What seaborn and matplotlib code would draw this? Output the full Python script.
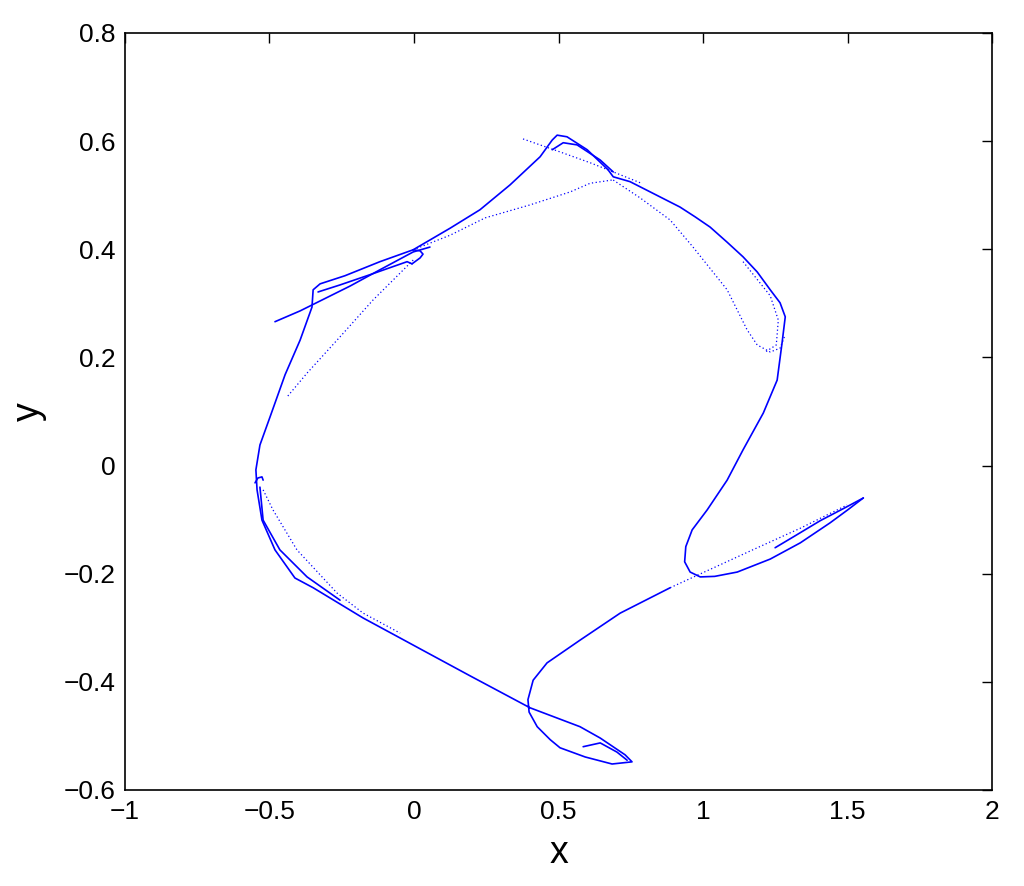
import pandas as pd
import matplotlib
matplotlib.use("Agg")
import matplotlib.pyplot as plt
import seaborn as sns

# traced strands of the attractor (x, y)
main_x = [-0.003, -0.118, -0.239, -0.325, -0.349, -0.353, -0.394, -0.446, -0.498, -0.533, -0.547, -0.543,
          -0.526, -0.481, -0.412, -0.349, -0.176, -0.048, 0.021, 0.194, 0.401, 0.574, 0.644, 0.730, 0.754,
          0.685, 0.592, 0.505, 0.471, 0.426, 0.398, 0.394, 0.412, 0.460, 0.574, 0.713, 0.886]
main_y = [0.399, 0.377, 0.351, 0.336, 0.325, 0.293, 0.232, 0.168, 0.090, 0.038, -0.008, -0.045,
          -0.101, -0.156, -0.208, -0.226, -0.282, -0.319, -0.339, -0.389, -0.448, -0.483, -0.504, -0.535, -0.548,
          -0.552, -0.539, -0.522, -0.507, -0.483, -0.456, -0.433, -0.397, -0.365, -0.323, -0.273, -0.226]

loop_x = [1.554, 1.500, 1.439, 1.336, 1.232, 1.118, 1.040, 0.990, 0.955, 0.936, 0.940, 0.962, 1.014, 1.083,
          1.138, 1.208, 1.256, 1.273, 1.284, 1.266, 1.232, 1.187, 1.138, 1.083, 1.024, 0.972, 0.920, 0.817,
          0.747, 0.689, 0.671, 0.599, 0.529, 0.495, 0.478, 0.436, 0.332, 0.228, 0.125, -0.003]
loop_y = [-0.060, -0.082, -0.106, -0.143, -0.173, -0.197, -0.205, -0.206, -0.197, -0.178, -0.150, -0.119,
          -0.082, -0.027, 0.029, 0.097, 0.158, 0.227, 0.275, 0.301, 0.325, 0.358, 0.386, 0.413, 0.441, 0.460,
          0.478, 0.506, 0.525, 0.534, 0.547, 0.584, 0.608, 0.611, 0.602, 0.571, 0.519, 0.473, 0.439, 0.399]

hook_x = [-0.003, 0.021, 0.031, 0.021, -0.007]
hook_y = [0.399, 0.397, 0.391, 0.384, 0.373]

thin_left_x = [-0.481, -0.394, -0.221, -0.118, -0.003, 0.055]
thin_left_y = [0.266, 0.286, 0.332, 0.362, 0.395, 0.404]

inner_left_x = [-0.332, -0.256, -0.152, -0.024, -0.007]
inner_left_y = [0.321, 0.334, 0.353, 0.377, 0.373]

drop_left_x = [-0.003, -0.142, -0.256, -0.370, -0.439]
drop_left_y = [0.380, 0.306, 0.238, 0.171, 0.127]

top_thin_x = [0.377, 0.505, 0.609, 0.689, 0.782]
top_thin_y = [0.604, 0.580, 0.560, 0.543, 0.523]

top_low_x = [-0.003, 0.125, 0.246, 0.401, 0.540, 0.609, 0.685]
top_low_y = [0.399, 0.426, 0.458, 0.482, 0.506, 0.522, 0.528]

peak_in_x = [0.478, 0.516, 0.564, 0.644, 0.689]
peak_in_y = [0.584, 0.597, 0.593, 0.565, 0.543]

tear_in_x = [0.689, 0.782, 0.886, 0.965, 1.083, 1.152, 1.187, 1.232, 1.266, 1.284]
tear_in_y = [0.528, 0.495, 0.454, 0.404, 0.325, 0.251, 0.223, 0.210, 0.217, 0.242]

tear_mid_x = [1.138, 1.232, 1.260, 1.253, 1.215]
tear_mid_y = [0.377, 0.314, 0.269, 0.223, 0.210]

v_in_x = [1.554, 1.491, 1.405, 1.318, 1.249]
v_in_y = [-0.060, -0.078, -0.102, -0.130, -0.152]

v_line_x = [0.886, 1.000, 1.163, 1.336, 1.498]
v_line_y = [-0.226, -0.198, -0.158, -0.116, -0.073]

arc_a_x = [-0.522, -0.488, -0.405, -0.266, -0.176, -0.048]
arc_a_y = [-0.045, -0.082, -0.156, -0.236, -0.273, -0.310]

arc_b_x = [-0.533, -0.522, -0.464, -0.370, -0.256]
arc_b_y = [-0.040, -0.101, -0.156, -0.206, -0.249]

tip_x = [-0.550, -0.540, -0.526, -0.522]
tip_y = [-0.032, -0.023, -0.021, -0.027]

bot_in_x = [0.585, 0.644, 0.702, 0.737]
bot_in_y = [-0.520, -0.513, -0.530, -0.545]

solid = [(main_x, main_y), (loop_x, loop_y), (hook_x, hook_y), (thin_left_x, thin_left_y),
         (inner_left_x, inner_left_y), (arc_b_x, arc_b_y), (tip_x, tip_y), (v_in_x, v_in_y),
         (bot_in_x, bot_in_y), (peak_in_x, peak_in_y)]
dotted = [(drop_left_x, drop_left_y), (top_thin_x, top_thin_y), (top_low_x, top_low_y),
          (tear_in_x, tear_in_y), (tear_mid_x, tear_mid_y), (v_line_x, v_line_y), (arc_a_x, arc_a_y)]

sns.set_style("white")
plt.rcParams['font.family'] = ['Liberation Sans', 'DejaVu Sans']

fig = plt.figure(figsize=(10.24, 8.86), dpi=100)
ax = fig.add_axes([0.122, 0.1084, 0.847, 0.8544])

for xs, ys in solid:
    sns.lineplot(x=xs, y=ys, sort=False, estimator=None, color="#0000ff", lw=1.2,
                 solid_capstyle="round", solid_joinstyle="round", ax=ax)
for xs, ys in dotted:
    sns.lineplot(x=xs, y=ys, sort=False, estimator=None, color="#0000ff", lw=0.9,
                 linestyle=(0, (1, 2)), ax=ax)

ax.set_xlim(-1, 2)
ax.set_ylim(-0.6, 0.8)
ax.set_xticks([-1, -0.5, 0, 0.5, 1, 1.5, 2])
ax.set_yticks([-0.6, -0.4, -0.2, 0, 0.2, 0.4, 0.6, 0.8])
ax.set_xticklabels(["\u22121", "\u22120.5", "0", "0.5", "1", "1.5", "2"])
ax.set_yticklabels(["\u22120.6", "\u22120.4", "\u22120.2", "0", "0.2", "0.4", "0.6", "0.8"])
ax.tick_params(direction="in", length=7, width=1, labelsize=19, labelcolor="black",
               colors="black", top=True, right=True, pad=7)
for s in ax.spines.values():
    s.set_color("black")
    s.set_linewidth(1.2)
ax.set_xlabel("x", fontsize=27, labelpad=8, color="black")
ax.set_ylabel("y", fontsize=27, labelpad=12, color="black")

fig.savefig("out.png", dpi=100, facecolor="white")
